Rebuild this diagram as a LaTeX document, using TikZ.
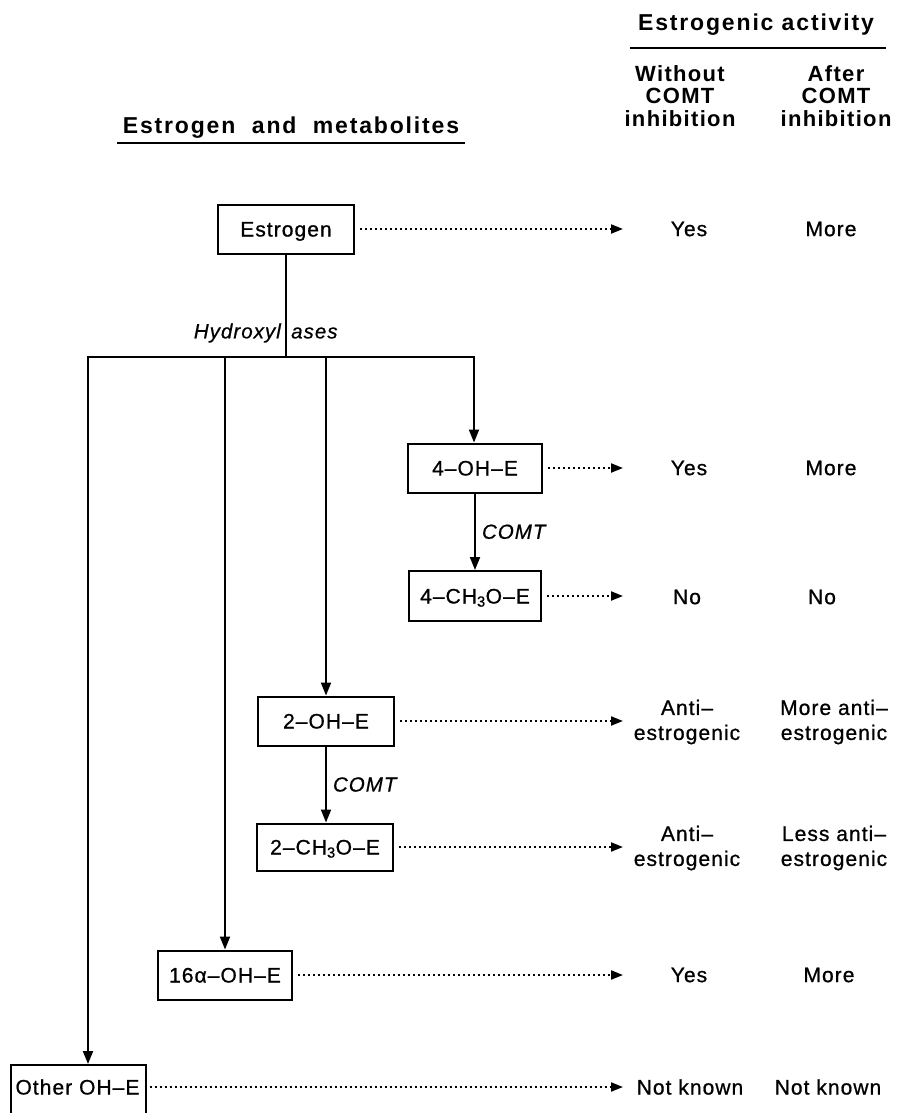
\documentclass[tikz,border=0pt]{standalone}
\usepackage{fontspec}
\setmainfont{Liberation Sans}[LetterSpace=5, FakeBold=0.8]
\newfontfamily\hdfont{Liberation Sans}[LetterSpace=8]
\newfontfamily\colfont{Liberation Sans}[LetterSpace=6]
\newfontfamily\itfont{Liberation Sans Italic}[LetterSpace=5, FakeBold=0.6]
\usetikzlibrary{arrows.meta}
\newcommand\myBody{\fontsize{21}{25}\selectfont}
\newcommand\myLab{\itfont\fontsize{20.5}{24}\selectfont}
\newcommand\myHead{\hdfont\bfseries\fontsize{23}{26}\selectfont}
\newcommand\myCol{\colfont\bfseries\fontsize{22}{22.5}\selectfont}
\begin{document}
\begin{tikzpicture}[x=1pt,y=-1pt,
  box/.style={draw, line width=2pt, inner sep=0pt, minimum height=49pt,
              text height=15pt, text depth=0pt, font=\myBody},
  conn/.style={line width=2pt},
  arr/.style={line width=2pt, -{Triangle[length=13pt,width=10pt]}},
  dotarr/.style={line width=2pt, dash pattern=on 2pt off 3pt,
                 -{Triangle[length=12pt,width=9pt]}, shorten <=5pt},
  res/.style={font=\myBody, align=center, inner sep=0pt},
  lab/.style={font=\myLab, inner sep=0pt},
  head/.style={font=\myHead, inner sep=0pt},
  colhead/.style={font=\myCol, align=center, inner sep=0pt}]
\useasboundingbox (0,0) rectangle (908,1113);
\clip (0,0) rectangle (908,1113);

% headers
\node[head] (hea) at (756,25) {Estrogenic\ activity};
\draw[line width=2pt] (630,48) -- (886,48);
\node[colhead] (hwo) at (680,96) {Without\\COMT\\inhibition};
\node[colhead] (haf) at (836,96) {After\\COMT\\inhibition};
\node[head] (hem) at (291,128) {Estrogen\ \ and\ \ metabolites};
\draw[line width=2pt] (117,143) -- (465,143);

% boxes
\node[box, minimum width=136pt] (estr) at (286,229) {Estrogen};
\node[box, minimum width=134pt] (oh4) at (475,468) {4--OH--E};
\node[box, minimum width=132pt, minimum height=50pt] (ch4) at (475,596) {4--CH\textsubscript{3}O--E};
\node[box, minimum width=136pt] (oh2) at (326,721) {2--OH--E};
\node[box, minimum width=136pt, minimum height=47pt] (ch2) at (325,847) {2--CH\textsubscript{3}O--E};
\node[box, minimum width=134pt] (oh16) at (225,975) {16α--OH--E};
\node[draw, line width=2pt, inner sep=0pt, anchor=north west, minimum width=135pt,
      minimum height=70pt, font=\myBody] (other) at (10,1064) {};
\node[font=\myBody, inner sep=0pt] (othert) at (77.5,1087) {Other OH--E};

% tree connectors
\coordinate (hub) at (286,357);
\coordinate (bl) at (88,357);
\coordinate (br) at (474,357);
\draw[conn] (estr.south) -- (hub);
\draw[conn, line cap=rect] (bl) -- (br);
\draw[arr] (bl) -- (bl |- other.north);
\draw[arr] (oh16.north |- hub) -- (oh16.north);
\draw[arr] (oh2.north |- hub) -- (oh2.north);
\draw[arr] (br) -- (br |- oh4.north);
\node[lab, anchor=east] (hyd1) at (281,333) {Hydroxyl};
\node[lab, anchor=west] (hyd2) at (291,333) {ases};
\draw[arr] (oh4.south) -- node[lab, right=6pt, name=comt4] {COMT} (oh4.south |- ch4.north);
\draw[arr] (oh2.south) -- node[lab, right=6pt, name=comt2] {COMT} (oh2.south |- ch2.north);

% results
\coordinate (t0) at (623,229);
\coordinate (t1) at (623,468);
\coordinate (t2) at (623,596);
\coordinate (t3) at (623,721);
\coordinate (t4) at (623,847);
\coordinate (t5) at (623,975);
\coordinate (t6) at (623,1087);
\draw[dotarr] (estr.east) -- (t0);
\draw[dotarr] (oh4.east) -- (t1);
\draw[dotarr] (ch4.east) -- (t2);
\draw[dotarr] (oh2.east) -- (t3);
\draw[dotarr] (ch2.east) -- (t4);
\draw[dotarr] (oh16.east) -- (t5);
\draw[dotarr] (othert.east) -- (t6);

\node[res] (a0) at (689,229) {Yes};
\node[res] (b0) at (831,229) {More};
\node[res] (a1) at (689,468) {Yes};
\node[res] (b1) at (831,468) {More};
\node[res] (a2) at (687,597) {No};
\node[res] (b2) at (822,597) {No};
\node[res] (a3) at (687,722) {Anti--\\estrogenic};
\node[res] (b3) at (834,722) {More anti--\\estrogenic};
\node[res] (a4) at (687,848) {Anti--\\estrogenic};
\node[res] (b4) at (834,848) {Less anti--\\estrogenic};
\node[res] (a5) at (689,975) {Yes};
\node[res] (b5) at (829,975) {More};
\node[res] (a6) at (690,1087) {Not known};
\node[res] (b6) at (828,1087) {Not known};
\end{tikzpicture}
\end{document}
